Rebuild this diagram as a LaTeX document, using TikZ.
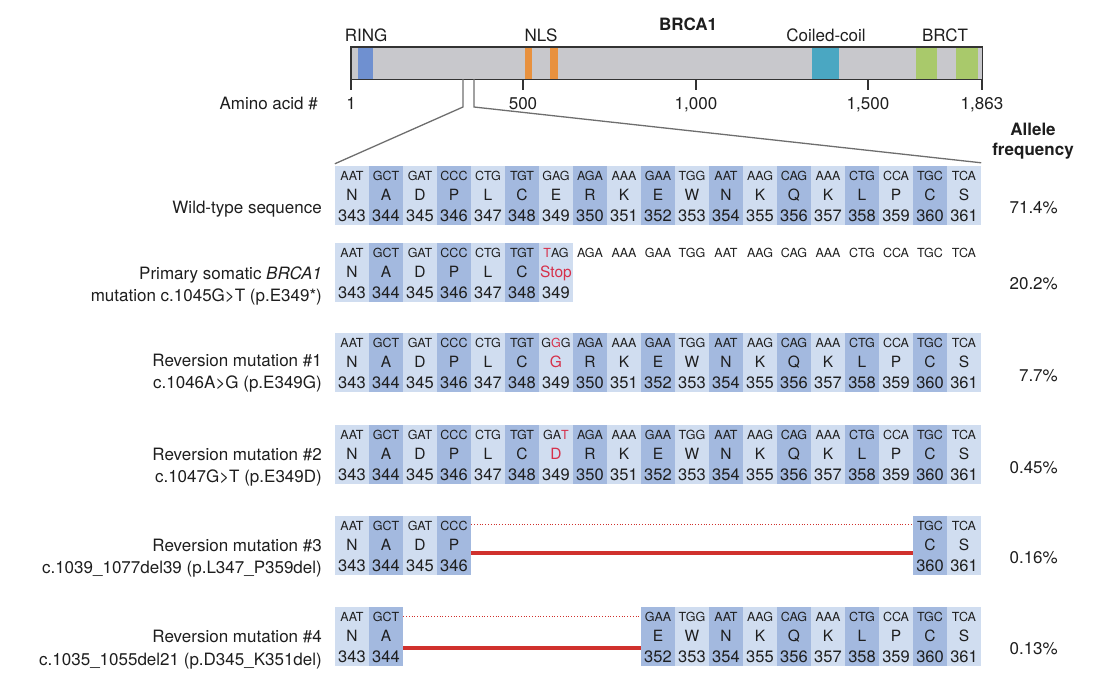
\documentclass[tikz,border=0pt]{standalone}
\usepackage{fontspec}
\setmainfont{TeX Gyre Heros}
\definecolor{celllight}{HTML}{D0DDF0}
\definecolor{celldark}{HTML}{A3B9DF}
\definecolor{barfill}{HTML}{C8C8CC}
\definecolor{ringc}{HTML}{6F90D0}
\definecolor{nlsc}{HTML}{E8913E}
\definecolor{coilc}{HTML}{4AA7C2}
\definecolor{brctc}{HTML}{A9C96B}
\definecolor{mutred}{HTML}{D6304A}
\definecolor{linered}{HTML}{D0312D}
\definecolor{zoomgray}{HTML}{6E6E6E}
\definecolor{txt}{HTML}{1E1E1E}
\def\fulllist{0/AAT/N,1/GCT/A,2/GAT/D,3/CCC/P,4/CTG/L,5/TGT/C,6/GAG/E,7/AGA/R,8/AAA/K,9/GAA/E,10/TGG/W,11/AAT/N,12/AAG/K,13/CAG/Q,14/AAA/K,15/CTG/L,16/CCA/P,17/TGC/C,18/TCA/S}
\newcommand{\seqcell}[5]{%
  \pgfmathtruncatemacro{\cnum}{343+#2}%
  \pgfmathsetmacro{\cx}{352+34*#2}%
  \ifodd#2\relax\def\cfill{celldark}\else\def\cfill{celllight}\fi
  \node[cellbg, fill=\cfill] (r#1c#2) at (\cx, #3+29.5) {};
  \node[codon] (r#1c#2t) at (\cx, #3+14) {#4};
  \node[aa] (r#1c#2a) at (\cx, #3+34.7) {#5};
  \node[num] (r#1c#2n) at (\cx, #3+55.7) {\cnum};
}
\tikzset{
  cellbg/.style={rectangle, draw=none, inner sep=0pt, minimum width=34pt, minimum height=59pt},
  codon/.style={font=\fontsize{12.5}{14}\selectfont, inner sep=0pt, anchor=base, text=txt},
  aa/.style={font=\fontsize{15.5}{18}\selectfont, inner sep=0pt, anchor=base, text=txt},
  num/.style={font=\fontsize{16.5}{19}\selectfont, inner sep=0pt, anchor=base, text=txt},
  lbl/.style={font=\fontsize{17}{20}\selectfont, inner sep=0pt, text=txt},
  blbl/.style={font=\fontsize{17}{20}\selectfont\bfseries, inner sep=0pt, text=txt},
  zoomline/.style={draw=zoomgray, line width=1.3pt},
  tickline/.style={draw=black!80, line width=1.2pt},
  reddot/.style={draw=linered, line width=0.8pt, dotted},
  redthick/.style={draw=linered, line width=3.5pt},
}
\begin{document}
\begin{tikzpicture}[x=1pt, y=-1pt]
\path[use as bounding box] (0,0) rectangle (1108,688);
% protein bar
\node[fill=barfill, draw=none, inner sep=0pt, minimum width=631pt, minimum height=32pt, anchor=north west] (bar) at (351,47) {};
\fill[ringc] (358,47) rectangle (373,79);
\fill[nlsc] (525,47) rectangle (532,79);
\fill[nlsc] (550,47) rectangle (558,79);
\fill[coilc] (812,47) rectangle (839,79);
\fill[brctc] (916,47) rectangle (937,79);
\fill[brctc] (956,47) rectangle (978,79);
\draw[black!80, line width=1.4pt] (bar.north west) rectangle (bar.south east);
% domain labels
\node[blbl, anchor=base] (brca) at (688,30) {BRCA1};
\node[lbl, anchor=base] (ring) at (366,41.7) {RING};
\node[lbl, anchor=base] (nls) at (541,41.7) {NLS};
\node[lbl, anchor=base] (coil) at (826,41.7) {Coiled-coil};
\node[lbl, anchor=base] (brct) at (945,41.7) {BRCT};
% ticks
\foreach \tx/\tl/\tn in {351/1/t1,523/500/t2,696/{1,000}/t3,868/{1,500}/t4,982/{1,863}/t5}{
  \draw[tickline] (\tx,79) -- (\tx,90);
  \node[lbl, anchor=base] (\tn) at (\tx,109) {\tl};
}
\node[lbl, anchor=base east] (aanum) at (318,109) {Amino acid \#};
% allele frequency header
\node[blbl, anchor=base] (af1) at (1033,135) {Allele};
\node[blbl, anchor=base] (af2) at (1033,155) {frequency};
% row 1
\foreach \i/\cod/\aa in \fulllist {\seqcell{1}{\i}{166}{\cod}{\aa}}
% row 2
\foreach \i/\cod/\aa in \fulllist {%
  \ifnum\i<6 \seqcell{2}{\i}{243}{\cod}{\aa}\else
  \ifnum\i>6 \node[codon] (r2c\i t) at (352+34*\i, 257) {\cod};\fi\fi}
\seqcell{2}{6}{243}{\textcolor{mutred}{T}AG}{\textcolor{mutred}{Stop}}
% row 3
\foreach \i/\cod/\aa in \fulllist {\ifnum\i=6 \else\seqcell{3}{\i}{333}{\cod}{\aa}\fi}
\seqcell{3}{6}{333}{G\textcolor{mutred}{G}G}{\textcolor{mutred}{G}}
% row 4
\foreach \i/\cod/\aa in \fulllist {\ifnum\i=6 \else\seqcell{4}{\i}{425}{\cod}{\aa}\fi}
\seqcell{4}{6}{425}{GA\textcolor{mutred}{T}}{\textcolor{mutred}{D}}
% row 5
\foreach \i/\cod/\aa in \fulllist {\ifnum\i<4 \seqcell{5}{\i}{516}{\cod}{\aa}\else\ifnum\i>16 \seqcell{5}{\i}{516}{\cod}{\aa}\fi\fi}
% row 6
\foreach \i/\cod/\aa in \fulllist {\ifnum\i<2 \seqcell{6}{\i}{607}{\cod}{\aa}\else\ifnum\i>8 \seqcell{6}{\i}{607}{\cod}{\aa}\fi\fi}
% deletion lines
\draw[reddot] ([yshift=-9pt]r5c3.north east) -- ([yshift=-9pt]r5c17.north west);
\draw[redthick] ([yshift=-37.3pt]r5c3.north east) -- ([yshift=-37.3pt]r5c17.north west);
\draw[reddot] ([yshift=-9.3pt]r6c1.north east) -- ([yshift=-9.3pt]r6c9.north west);
\draw[redthick] ([yshift=-41pt]r6c1.north east) -- ([yshift=-41pt]r6c9.north west);
% zoom lines
\coordinate (zlt) at (463,79);
\coordinate (zlb) at (463,107);
\coordinate (zrt) at (474,79);
\coordinate (zrb) at (474,107);
\draw[zoomline] (zlt) -- (zlb) -- ([yshift=2pt]r1c0.north west);
\draw[zoomline] (zrt) -- (zrb) -- ([yshift=3pt]r1c18.north east);
% row labels
\node[lbl, anchor=base east] (lab1) at (322,213) {Wild-type sequence};
\node[lbl, anchor=base east] (lab2a) at (322,279) {Primary somatic \textit{BRCA1}};
\node[lbl, anchor=base east] (lab2b) at (322,301.5) {mutation c.1045G>T (p.E349*)};
\node[lbl, anchor=base east] (lab3a) at (322,366) {Reversion mutation \#1};
\node[lbl, anchor=base east] (lab3b) at (322,388) {c.1046A>G (p.E349G)};
\node[lbl, anchor=base east] (lab4a) at (322,460) {Reversion mutation \#2};
\node[lbl, anchor=base east] (lab4b) at (322,482) {c.1047G>T (p.E349D)};
\node[lbl, anchor=base east] (lab5a) at (322,551) {Reversion mutation \#3};
\node[lbl, anchor=base east] (lab5b) at (322,573) {c.1039\_1077del39 (p.L347\_P359del)};
\node[lbl, anchor=base east] (lab6a) at (322,642) {Reversion mutation \#4};
\node[lbl, anchor=base east] (lab6b) at (322,665) {c.1035\_1055del21 (p.D345\_K351del)};
% frequencies
\node[lbl, anchor=base east] (f1) at (1058,213) {71.4\%};
\node[lbl, anchor=base east] (f2) at (1058,289) {20.2\%};
\node[lbl, anchor=base east] (f3) at (1058,381) {7.7\%};
\node[lbl, anchor=base east] (f4) at (1058,473) {0.45\%};
\node[lbl, anchor=base east] (f5) at (1058,563) {0.16\%};
\node[lbl, anchor=base east] (f6) at (1058,654) {0.13\%};
\end{tikzpicture}
\end{document}
